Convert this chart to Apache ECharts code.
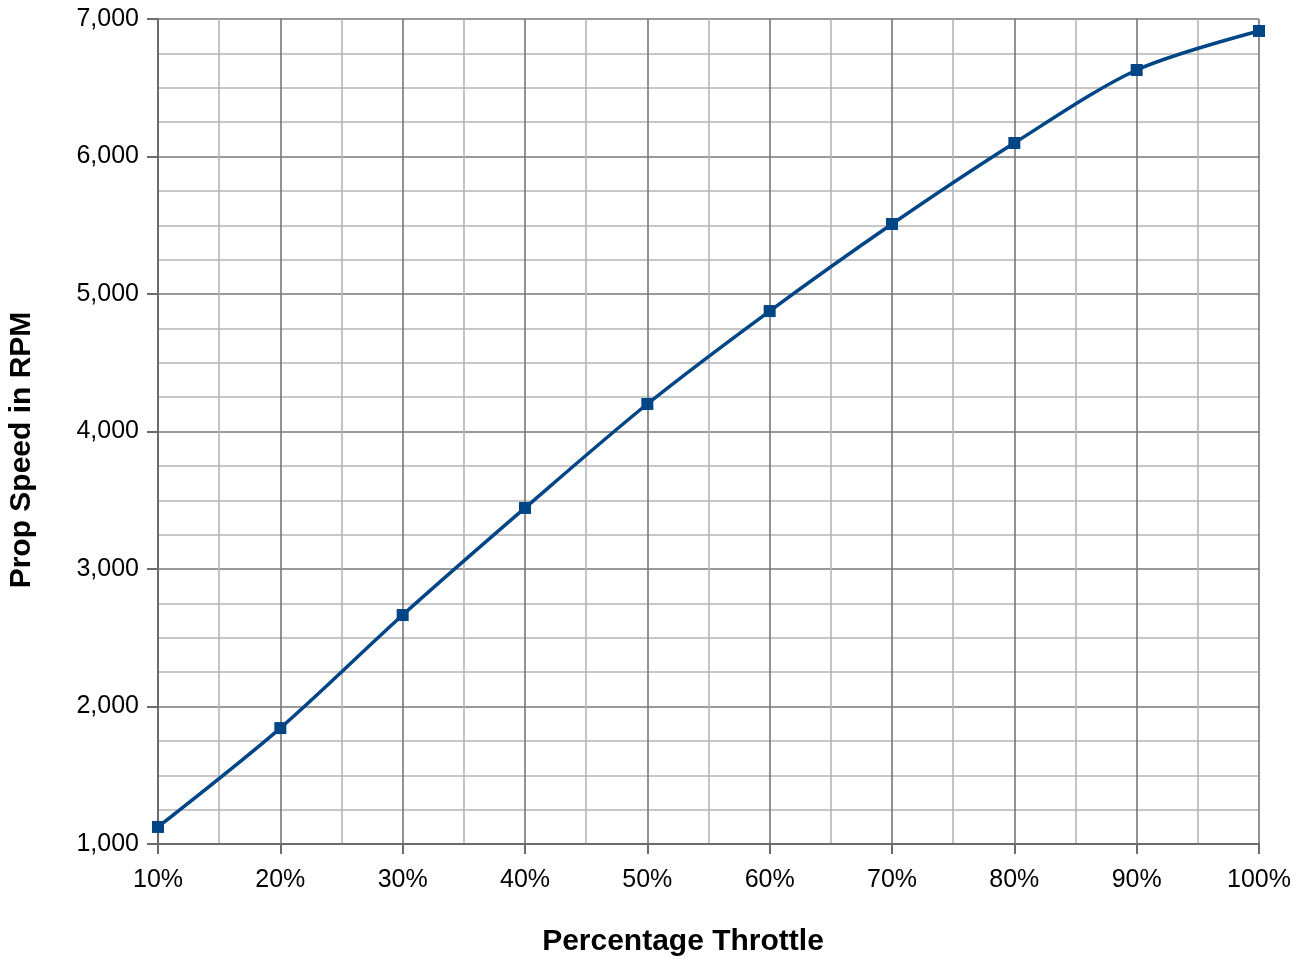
<!DOCTYPE html>
<html>
<head>
<meta charset="utf-8">
<script src="https://cdn.jsdelivr.net/npm/echarts@6/dist/echarts.min.js"></script>
<style>html,body{margin:0;padding:0;background:#fff}#c{width:1304px;height:959px}</style>
</head>
<body>
<div id="c"></div>
<script>
const throttle = [10, 20, 30, 40, 50, 60, 70, 80, 90, 100];
const rpm = [1124, 1843, 2665, 3444, 4200, 4876, 5509, 6098, 6629, 6913];
const xTitle = 'Percentage Throttle';
const yTitle = 'Prop Speed in RPM';

const chart = echarts.init(document.getElementById('c'));
const font = '"Liberation Sans", Arial, sans-serif';
chart.setOption({
  animation: false,
  grid: { left: 158, right: 45, top: 19, bottom: 115, containLabel: false },
  graphic: [
    { type: 'text', x: 683, y: 942, style: { text: xTitle, font: 'bold 30px ' + font, fill: '#000', align: 'center', verticalAlign: 'middle' } },
    { type: 'text', x: 22, y: 450, rotation: Math.PI / 2, style: { text: yTitle, font: 'bold 30px ' + font, fill: '#000', align: 'center', verticalAlign: 'middle' } }
  ],
  xAxis: {
    type: 'value', min: 10, max: 100, interval: 10,
    axisLine: { show: true, onZero: false, lineStyle: { color: '#6b6b6b', width: 2 } },
    axisTick: { show: true, length: 10, lineStyle: { color: '#6b6b6b', width: 2 } },
    axisLabel: { formatter: v => v + '%', fontFamily: font, fontSize: 25, color: '#000', margin: 24 },
    splitLine: { show: true, lineStyle: { color: '#777777', width: 1.6 } },
    minorTick: { show: false, splitNumber: 2 },
    minorSplitLine: { show: true, lineStyle: { color: '#b5b5b5', width: 1.6 } }
  },
  yAxis: {
    type: 'value', min: 1000, max: 7000, interval: 1000,
    axisLine: { show: true, lineStyle: { color: '#6b6b6b', width: 2 } },
    axisTick: { show: true, length: 11, lineStyle: { color: '#6b6b6b', width: 2 } },
    axisLabel: { formatter: v => v.toLocaleString('en-US'), fontFamily: font, fontSize: 25, color: '#000', margin: 19 },
    splitLine: { show: true, lineStyle: { color: '#777777', width: 1.6 } },
    minorTick: { show: false, splitNumber: 4 },
    minorSplitLine: { show: true, lineStyle: { color: '#b5b5b5', width: 1.6 } }
  },
  series: [{
    type: 'line',
    data: throttle.map((t, i) => [t, rpm[i]]),
    smooth: 0.3,
    symbol: 'rect', symbolSize: 12,
    lineStyle: { color: '#004586', width: 3.5 },
    itemStyle: { color: '#004586' }
  }]
});
</script>
</body>
</html>
